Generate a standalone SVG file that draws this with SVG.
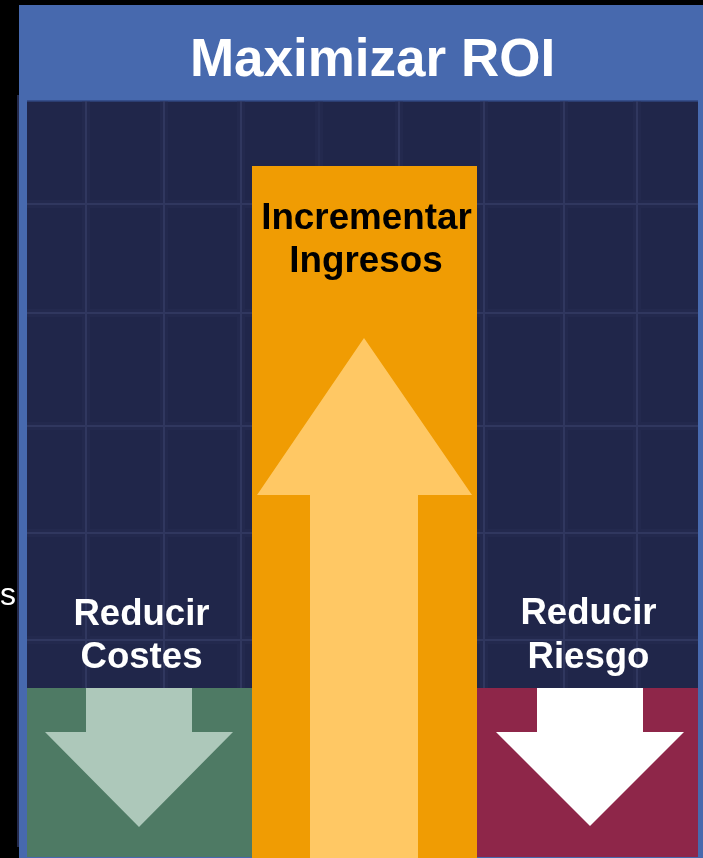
<svg xmlns="http://www.w3.org/2000/svg" width="703" height="858" viewBox="0 0 703 858">
  <style>
    .t { font-family: "Liberation Sans", Arial, sans-serif; font-weight: bold; text-anchor: middle; }
    .grid line { stroke: #3a416c; stroke-width: 2; }
    .glow line { stroke: #2a3058; stroke-width: 8; }
  </style>
  <rect x="0" y="0" width="703" height="858" fill="#000000"/>
  <rect x="17" y="95" width="4" height="752" fill="#242a4c"/>
  <!-- frame -->
  <rect x="19" y="5" width="684" height="853" fill="#4769AE"/>
  <rect x="27" y="101" width="671" height="756" fill="#20264A"/>
  <line x1="27" y1="101" x2="698" y2="101" stroke="#2f467f" stroke-width="1.5"/>
  <!-- grid -->
  <g class="glow" opacity="0.35">
    <line x1="86" y1="101" x2="86" y2="857"/>
    <line x1="164" y1="101" x2="164" y2="857"/>
    <line x1="241" y1="101" x2="241" y2="857"/>
    <line x1="319" y1="101" x2="319" y2="857"/>
    <line x1="399" y1="101" x2="399" y2="857"/>
    <line x1="484" y1="101" x2="484" y2="857"/>
    <line x1="564" y1="101" x2="564" y2="857"/>
    <line x1="637" y1="101" x2="637" y2="857"/>
    <line x1="27" y1="204" x2="698" y2="204"/>
    <line x1="27" y1="313" x2="698" y2="313"/>
    <line x1="27" y1="426" x2="698" y2="426"/>
    <line x1="27" y1="533" x2="698" y2="533"/>
    <line x1="27" y1="640" x2="698" y2="640"/>
  </g>
  <g class="grid" opacity="0.6">
    <line x1="86" y1="101" x2="86" y2="857"/>
    <line x1="164" y1="101" x2="164" y2="857"/>
    <line x1="241" y1="101" x2="241" y2="857"/>
    <line x1="319" y1="101" x2="319" y2="857" opacity="0.4"/>
    <line x1="399" y1="101" x2="399" y2="857"/>
    <line x1="484" y1="101" x2="484" y2="857"/>
    <line x1="564" y1="101" x2="564" y2="857"/>
    <line x1="637" y1="101" x2="637" y2="857"/>
    <line x1="27" y1="204" x2="698" y2="204"/>
    <line x1="27" y1="313" x2="698" y2="313"/>
    <line x1="27" y1="426" x2="698" y2="426"/>
    <line x1="27" y1="533" x2="698" y2="533"/>
    <line x1="27" y1="640" x2="698" y2="640"/>
  </g>
  <g id="title">
    <text class="t" x="372.5" y="76" font-size="53" fill="#FFFFFF">Maximizar ROI</text>
  </g>
  <g id="cut-text">
    <text x="0" y="605" font-family="Liberation Sans, Arial, sans-serif" font-size="32" fill="#FFFFFF" text-anchor="start">s</text>
  </g>
  <g id="ingresos">
    <rect x="252" y="166" width="225" height="692" fill="#F09C03"/>
    <polygon points="364,338 472,495 418,495 418,858 310,858 310,495 257,495" fill="#FFC864"/>
    <text class="t" x="366.5" y="229" font-size="36.8" fill="#000000">Incrementar</text>
    <text class="t" x="366" y="272" font-size="36.8" fill="#000000">Ingresos</text>
  </g>
  <g id="costes">
    <rect x="27" y="688" width="225" height="169" fill="#4E7A64"/>
    <polygon points="86,688 192,688 192,732 233,732 139,827 45,732 86,732" fill="#ADC8BA"/>
    <text class="t" x="141.5" y="625" font-size="36.6" fill="#FFFFFF">Reducir</text>
    <text class="t" x="141.5" y="668" font-size="36.6" fill="#FFFFFF">Costes</text>
  </g>
  <g id="riesgo">
    <rect x="477" y="688" width="221" height="169" fill="#8E2649"/>
    <polygon points="537,688 643,688 643,732 684,732 590,826 496,732 537,732" fill="#FFFFFF"/>
    <text class="t" x="588.5" y="624" font-size="36.6" fill="#FFFFFF">Reducir</text>
    <text class="t" x="588.5" y="668" font-size="36.6" fill="#FFFFFF">Riesgo</text>
  </g>
  <g id="connectors"></g>
</svg>
